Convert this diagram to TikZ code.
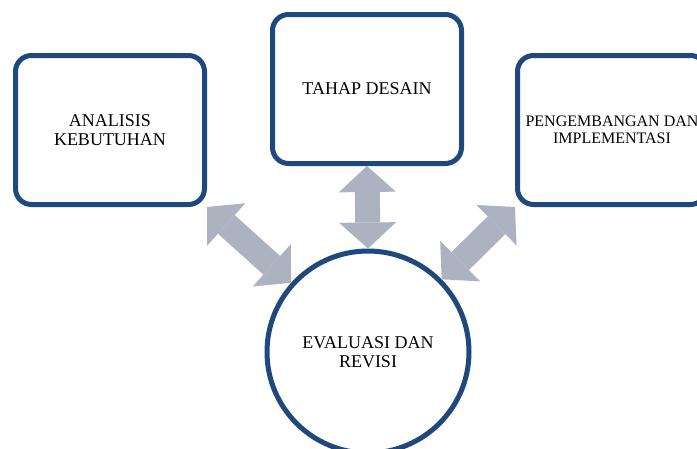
\documentclass[tikz,border=0pt]{standalone}
\usepackage{fontspec}
\setmainfont{Liberation Serif}
\usetikzlibrary{arrows.meta}
\definecolor{framec}{RGB}{31,73,125}
\definecolor{arrowc}{RGB}{172,178,192}
\tikzset{
  stage/.style = {draw=framec, line width=5pt, rounded corners=16pt, fill=white,
                  align=center, minimum width=189pt, minimum height=149pt,
                  font=\fontsize{18}{19}\selectfont},
  hub/.style   = {circle, draw=framec, line width=5pt, fill=white, minimum size=202pt,
                  align=center, font=\fontsize{18}{19}\selectfont},
  link/.style  = {line width=25pt, draw=arrowc,
                  {Triangle[length=26pt, width=57pt, line width=0pt]}-{Triangle[length=26pt, width=57pt, line width=0pt]}},
}
\begin{document}
\begin{tikzpicture}[x=1pt, y=-1pt]
\useasboundingbox (0,0) rectangle (697,448);

% ---- the three stages ----
\node[stage] (analisis) at (110,130) {ANALISIS\\KEBUTUHAN};
\node[stage] (desain) at (367,89) {TAHAP DESAIN};
\node[stage, font=\fontsize{16}{17}\selectfont] (kembang) at (612,130)
  {PENGEMBANGAN DAN\\IMPLEMENTASI};

% ---- evaluation hub ----
\node[hub] (evaluasi) at (368,352) {EVALUASI DAN\\REVISI};

% ---- two-way links ----
\draw[link] (analisis.south east) -- (evaluasi);
\draw[link] (desain.south) -- (evaluasi.north);
\draw[link] (kembang.south west) -- (evaluasi);

\end{tikzpicture}
\end{document}
